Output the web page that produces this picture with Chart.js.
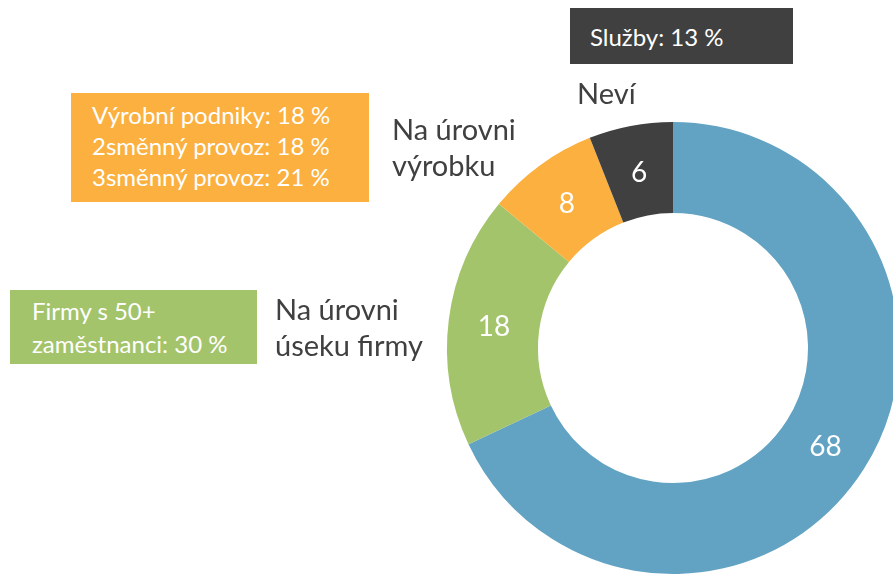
<!DOCTYPE html>
<html>
<head>
<meta charset="utf-8">
<script src="https://cdn.jsdelivr.net/npm/chart.js@4/dist/chart.umd.min.js"></script>
<style>
    html, body { margin: 0; padding: 0; background: #fff; overflow: hidden; width: 893px; height: 574px; }
    #wrap { position: relative; width: 893px; height: 574px; }
    #DonutChart { position: absolute; left: 0; top: 0; }
    .box { position: absolute; box-sizing: border-box; color: #fff; font-family: Lato, sans-serif; font-size: 24px; white-space: nowrap; }
    .lbl { position: absolute; color: #404040; font-family: Lato, sans-serif; font-size: 29px; line-height: 36px; white-space: nowrap; }
</style>
</head>
<body>
<div id="wrap">
    <canvas id="DonutChart" width="900" height="574"></canvas>

    <div class="box" id="boxServices" style="left:570px; top:8px; width:223px; height:56px; background:#404040; line-height:56px; padding:1px 0 0 20px;"></div>
    <div class="box" id="boxProduction" style="left:71px; top:93px; width:298px; height:109px; background:#FBB040; line-height:31px; padding:6px 0 0 21px;"></div>
    <div class="box" id="boxFirms" style="left:10px; top:290px; width:247px; height:74px; background:#A3C46B; line-height:33px; padding:4px 0 0 22px;"></div>

    <div class="lbl" id="lblDontKnow" style="left:577px; top:75px;"></div>
    <div class="lbl" id="lblProduct" style="left:392px; top:111px;"></div>
    <div class="lbl" id="lblDivision" style="left:275px; top:291px;"></div>
</div>

<script>
// chart data
var categories = ['Na úrovni firmy', 'Na úrovni úseku firmy', 'Na úrovni výrobku', 'Neví'];
var values = [68, 18, 8, 6];
var colors = ['#62A3C3', '#A3C46B', '#FBB040', '#404040'];

// annotation texts
var servicesLines = ['Služby: 13 %'];
var productionLines = ['Výrobní podniky: 18 %', '2směnný provoz: 18 %', '3směnný provoz: 21 %'];
var firmsLines = ['Firmy s 50+', 'zaměstnanci: 30 %'];
var dontKnowLines = ['Neví'];
var productLines = ['Na úrovni', 'výrobku'];
var divisionLines = ['Na úrovni', 'úseku firmy'];

function fillLines(id, lines) {
    var el = document.getElementById(id);
    lines.forEach(function (t, i) {
        if (i > 0) el.appendChild(document.createElement('br'));
        el.appendChild(document.createTextNode(t));
    });
}
fillLines('boxServices', servicesLines);
fillLines('boxProduction', productionLines);
fillLines('boxFirms', firmsLines);
fillLines('lblDontKnow', dontKnowLines);
fillLines('lblProduct', productLines);
fillLines('lblDivision', divisionLines);

// white numbers in the middle of each slice
var sliceLabels = {
    id: 'sliceLabels',
    afterDatasetsDraw: function (chart) {
        var ctx = chart.ctx;
        var meta = chart.getDatasetMeta(0);
        ctx.save();
        ctx.fillStyle = '#ffffff';
        ctx.font = '28px Lato, sans-serif';
        ctx.textAlign = 'center';
        ctx.textBaseline = 'middle';
        meta.data.forEach(function (arc, i) {
            var p = arc.tooltipPosition();
            ctx.fillText(String(values[i]), p.x, p.y + 2);
        });
        ctx.restore();
    }
};

drawDonut();
function drawDonut() {
    var ctx = document.getElementById('DonutChart');
    var config = {
        type: 'doughnut',
        data: {
            labels: categories,
            datasets: [{
                data: values,
                backgroundColor: colors,
                borderWidth: 0,
                hoverOffset: 0
            }]
        },
        options: {
            responsive: false,
            animation: false,
            cutout: 135,
            layout: {
                padding: { left: 447, top: 122, right: 1, bottom: 0 }
            },
            plugins: {
                legend: { display: false },
                tooltip: { enabled: false }
            }
        },
        plugins: [sliceLabels]
    };
    var myChart = new Chart(ctx, config);
}
</script>
</body>
</html>
